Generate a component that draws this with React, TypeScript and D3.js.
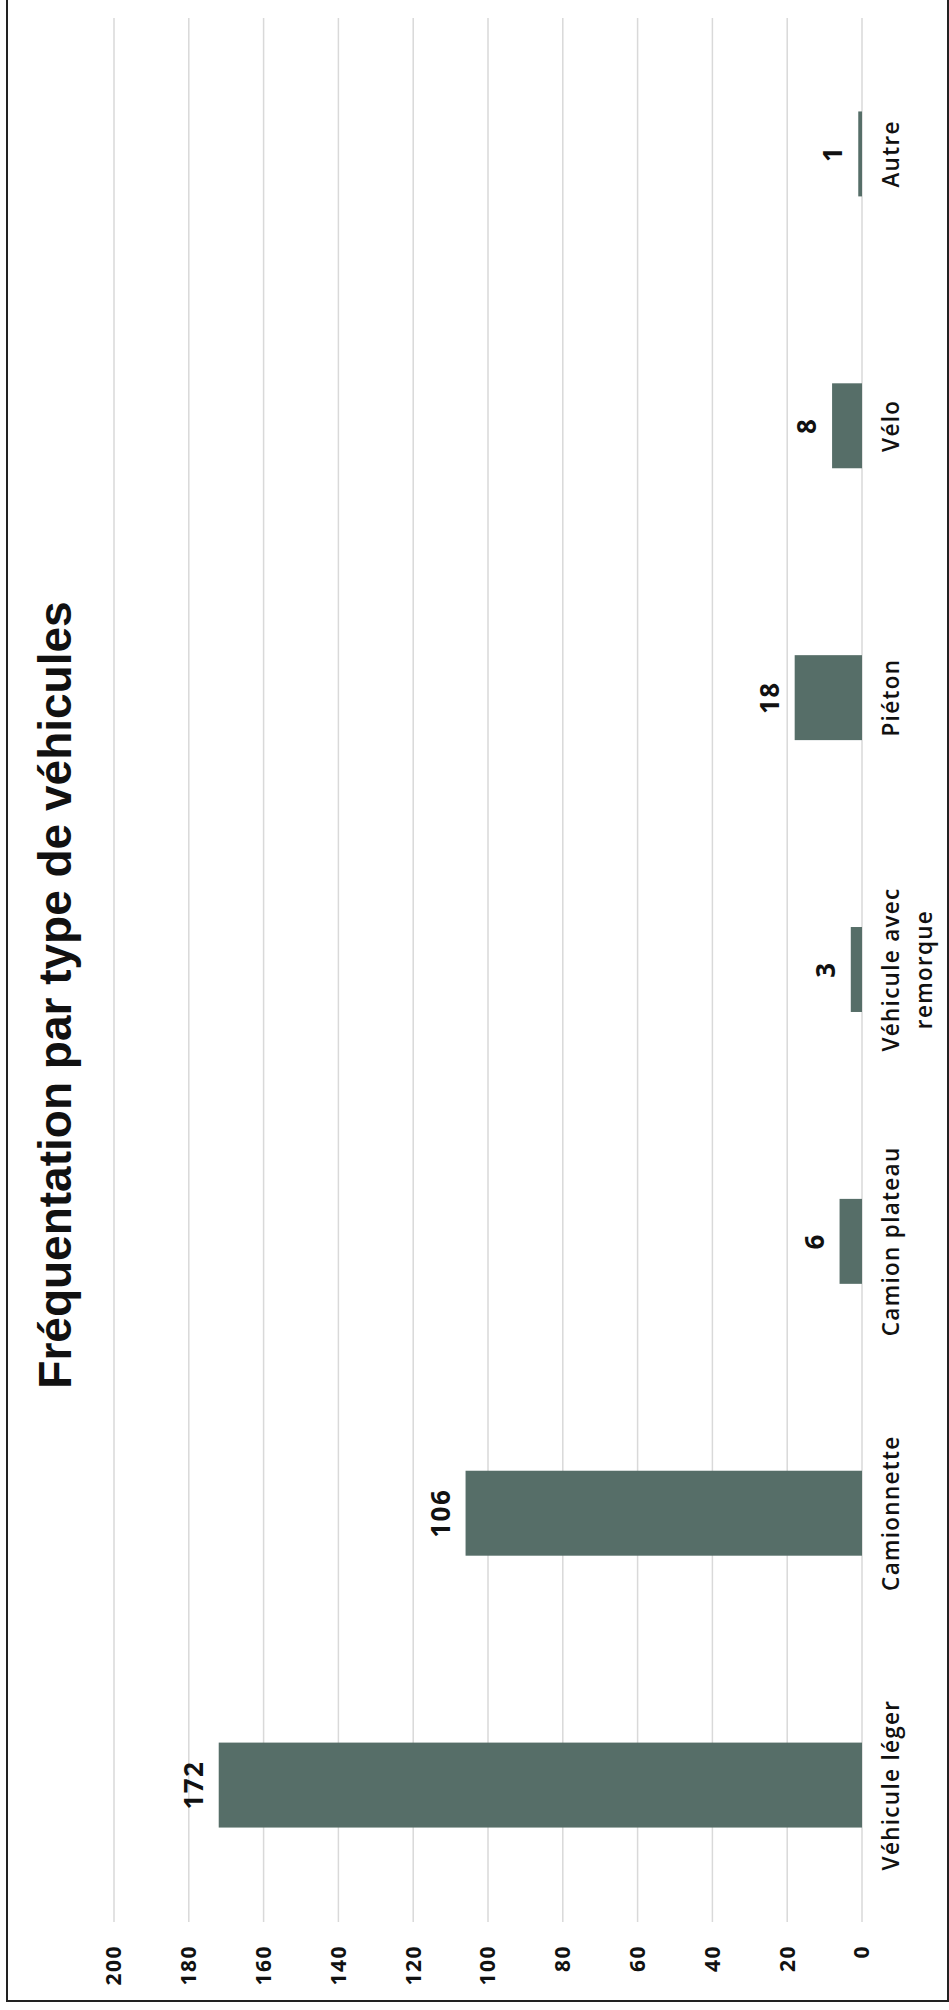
import React from "react";
import * as d3 from "d3";

const categories: string[] = [
  "Véhicule léger",
  "Camionnette",
  "Camion plateau",
  "Véhicule avec remorque",
  "Piéton",
  "Vélo",
  "Autre",
];
const values: number[] = [172, 106, 6, 3, 18, 8, 1];
const tickValues: number[] = [0, 20, 40, 60, 80, 100, 120, 140, 160, 180, 200];
const title = "Fréquentation par type de véhicules";

const W = 949;
const H = 2010;
const BAR = "#566e68";
const GRID = "#d9d9d9";
const LABEL_FONT = "'Open Sans', 'DejaVu Sans', sans-serif";
const TITLE_FONT = "'Liberation Sans', Arial, sans-serif";

function wrap(label: string, maxChars: number): string[] {
  const words = label.split(" ");
  const lines: string[] = [];
  let cur = "";
  for (const w of words) {
    const next = cur ? cur + " " + w : w;
    if (next.length > maxChars && cur) {
      lines.push(cur);
      cur = w;
    } else cur = next;
  }
  if (cur) lines.push(cur);
  return lines;
}

export default function App() {
  const x = d3.scaleLinear().domain([0, 200]).range([862, 114]);
  const y = d3
    .scaleBand<string>()
    .domain(categories)
    .range([1921, 18])
    .paddingInner(0.6875)
    .paddingOuter(0.34375);
  const bw = y.bandwidth();

  return (
    <svg
      width={W}
      height={H}
      style={{ position: "absolute", left: 0, top: 0, display: "block" }}
    >
      <rect x={0} y={0} width={W} height={H} fill="#fff" />
      {tickValues.map((t) => (
        <line
          key={"g" + t}
          x1={x(t)}
          x2={x(t)}
          y1={18}
          y2={1922}
          stroke={GRID}
          strokeWidth={1.5}
        />
      ))}
      {categories.map((c, i) => (
        <rect
          key={"b" + c}
          x={x(values[i])}
          y={y(c)!}
          width={x(0) - x(values[i])}
          height={bw}
          fill={BAR}
        />
      ))}
      {categories.map((c, i) => (
        <text
          key={"v" + c}
          transform={`translate(${x(values[i]) - 16},${y(c)! + bw / 2}) rotate(-90)`}
          textAnchor="middle"
          fontFamily={LABEL_FONT}
          fontWeight={700}
          fontSize={26}
          letterSpacing={1.5}
          fill="#111"
        >
          {values[i]}
        </text>
      ))}
      {categories.map((c) => {
        const lines = wrap(c, 15);
        return (
          <text
            key={"c" + c}
            transform={`translate(899,${y(c)! + bw / 2}) rotate(-90)`}
            textAnchor="middle"
            fontFamily={LABEL_FONT}
            fontWeight={600}
            fontSize={22.5}
            letterSpacing={1.3}
            fill="#111"
          >
            {lines.map((l, k) => (
              <tspan key={k} x={0} y={k * 33}>
                {l}
              </tspan>
            ))}
          </text>
        );
      })}
      {tickValues.map((t) => (
        <text
          key={"t" + t}
          transform={`translate(${x(t)},1945) rotate(-90)`}
          textAnchor="end"
          dy="0.35em"
          fontFamily={LABEL_FONT}
          fontWeight={700}
          fontSize={21}
          letterSpacing={1.5}
          fill="#111"
        >
          {t}
        </text>
      ))}
      <text
        transform={`translate(71,995) rotate(-90)`}
        textAnchor="middle"
        fontFamily={TITLE_FONT}
        fontWeight={700}
        fontSize={46}
        fill="#111"
      >
        {title}
      </text>
      <rect
        x={7}
        y={-10}
        width={941}
        height={2011}
        fill="none"
        stroke="#222"
        strokeWidth={2}
      />
    </svg>
  );
}
